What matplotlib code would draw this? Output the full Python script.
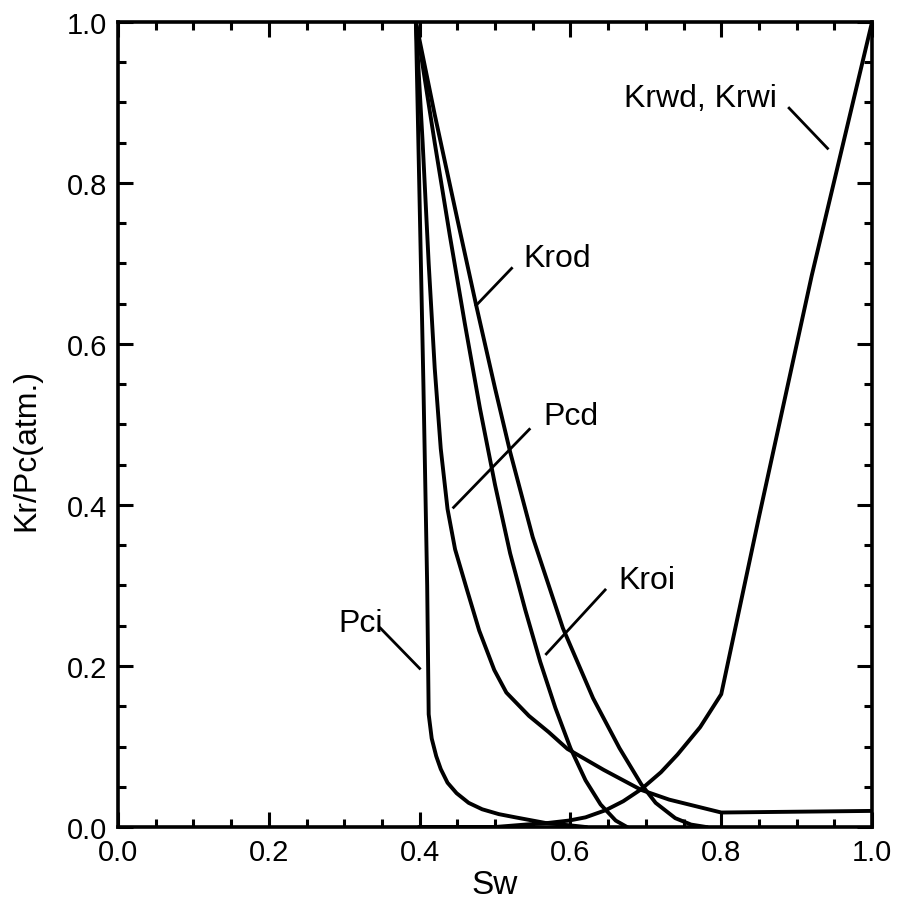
import matplotlib
matplotlib.use("Agg")
import matplotlib.pyplot as plt
from matplotlib.ticker import MultipleLocator

plt.rcParams['font.family'] = ['Liberation Sans', 'DejaVu Sans']

# curves (Sw, value)
pci_sw = [0.395, 0.405, 0.410, 0.412, 0.416, 0.422, 0.428, 0.437, 0.449, 0.465,
          0.483, 0.505, 0.527, 0.567, 0.60, 0.62]
pci = [1.0, 0.55, 0.30, 0.14, 0.11, 0.088, 0.072, 0.055, 0.042, 0.030,
       0.022, 0.016, 0.012, 0.005, 0.002, 0.0]

pcd_sw = [0.395, 0.404, 0.412, 0.42, 0.428, 0.437, 0.447, 0.463, 0.479, 0.499,
          0.515, 0.545, 0.571, 0.596, 0.644, 0.694, 0.731, 0.80, 1.0]
pcd = [1.0, 0.85, 0.70, 0.57, 0.47, 0.395, 0.345, 0.294, 0.244, 0.195,
       0.167, 0.138, 0.118, 0.097, 0.071, 0.046, 0.034, 0.018, 0.02]

kroi_sw = [0.395, 0.42, 0.44, 0.46, 0.48, 0.50, 0.52, 0.54, 0.56, 0.58,
           0.60, 0.62, 0.64, 0.66, 0.675]
kroi = [1.0, 0.85, 0.735, 0.625, 0.52, 0.425, 0.34, 0.27, 0.205, 0.148,
        0.098, 0.058, 0.028, 0.008, 0.0]

krod_sw = [0.395, 0.42, 0.45, 0.475, 0.50, 0.52, 0.55, 0.59, 0.63, 0.665,
           0.694, 0.713, 0.739, 0.76, 0.78]
krod = [1.0, 0.885, 0.755, 0.648, 0.545, 0.466, 0.36, 0.247, 0.160, 0.098,
        0.053, 0.030, 0.011, 0.003, 0.0]

krw_sw = [0.40, 0.50, 0.54, 0.57, 0.598, 0.62, 0.647, 0.67, 0.694, 0.72,
          0.742, 0.772, 0.80, 0.85, 0.92, 1.0]
krw = [0.0, 0.0, 0.003, 0.005, 0.008, 0.012, 0.021, 0.032, 0.047, 0.068,
       0.090, 0.124, 0.165, 0.385, 0.685, 1.0]

# labels: text, text centre, pointer start, pointer end
labels = ["Krwd, Krwi", "Krod", "Pcd", "Kroi", "Pci"]
label_xy = [(0.772, 0.905), (0.582, 0.707), (0.600, 0.51), (0.702, 0.307), (0.322, 0.254)]
ptr_from = [(0.890, 0.893), (0.522, 0.694), (0.5455, 0.494), (0.646, 0.2945), (0.348, 0.247)]
ptr_to = [(0.941, 0.843), (0.475, 0.648), (0.445, 0.397), (0.568, 0.215), (0.400, 0.197)]

fig = plt.figure(figsize=(9.1, 9.12), dpi=100)
ax = fig.add_axes([0.1297, 0.0921, 0.8286, 0.8827])

lw = 2.8
for xs, ys in [(pci_sw, pci), (pcd_sw, pcd), (kroi_sw, kroi), (krod_sw, krod), (krw_sw, krw)]:
    ax.plot(xs, ys, color="black", lw=lw)

for txt, (tx, ty), p0, p1 in zip(labels, label_xy, ptr_from, ptr_to):
    ax.text(tx, ty, txt, fontsize=23, ha="center", va="center")
    ax.plot([p0[0], p1[0]], [p0[1], p1[1]], color="black", lw=2.0)

ax.set_xlim(0, 1)
ax.set_ylim(0, 1)
ax.xaxis.set_major_locator(MultipleLocator(0.2))
ax.xaxis.set_minor_locator(MultipleLocator(0.05))
ax.yaxis.set_major_locator(MultipleLocator(0.2))
ax.yaxis.set_minor_locator(MultipleLocator(0.05))
ax.xaxis.set_major_formatter(plt.FormatStrFormatter("%.1f"))
ax.yaxis.set_major_formatter(plt.FormatStrFormatter("%.1f"))
ax.tick_params(which="both", direction="in", top=True, right=True, width=2.2, labelsize=21)
ax.tick_params(which="major", length=11, pad=8)
ax.tick_params(which="minor", length=5.5)
for s in ax.spines.values():
    s.set_linewidth(2.6)

ax.set_xlabel("Sw", fontsize=24)
ax.set_ylabel("Kr/Pc(atm.)", fontsize=23)
ax.xaxis.set_label_coords(0.5, -0.052)
ax.yaxis.set_label_coords(-0.102, 0.47)

fig.savefig("out.png", dpi=100)
